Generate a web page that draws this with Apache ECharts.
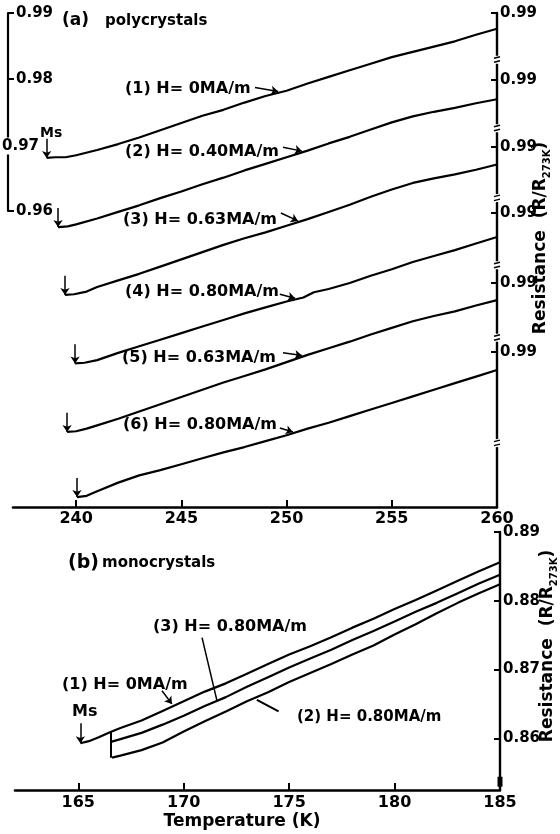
<!DOCTYPE html>
<html>
<head>
<meta charset="utf-8">
<script src="https://cdn.jsdelivr.net/npm/echarts@6/dist/echarts.min.js"></script>
<style>
  html, body { margin: 0; padding: 0; background: #fff; }
  #chart { width: 560px; height: 834px; }
</style>
</head>
<body>
<div id="chart"></div>
<script>
// ---------- (a) polycrystals: R/R273K vs temperature (K), six runs ----------
const polyLabels = ['(1) H= 0MA/m', '(2) H= 0.40MA/m', '(3) H= 0.63MA/m',
                    '(4) H= 0.80MA/m', '(5) H= 0.63MA/m', '(6) H= 0.80MA/m'];
// each run is drawn lowered by this amount; its own 0.99 sits at (0.99 - shift)
const polyShift = [0, 0.0102, 0.0203, 0.0304, 0.0410, 0.0515];

const poly1 = [[238.6,0.9680],[239.0,0.9681],[239.5,0.9681],[240,0.9684],[241,0.9692],[242,0.9701],
  [243,0.9711],[244,0.9722],[245,0.9733],[246,0.9744],[247,0.9753],[248,0.9764],[249,0.9774],
  [250,0.9782],[251,0.9793],[252,0.9803],[253,0.9813],[254,0.9823],[255,0.9833],[256,0.9841],
  [257,0.9849],[258,0.9857],[259,0.9867],[260,0.9876]];
const poly2 = [[239.14,0.9677],[239.6,0.9678],[240,0.9681],[241,0.9690],[242,0.9700],[243,0.9710],
  [244,0.9721],[245,0.9731],[246,0.9742],[247,0.9752],[248,0.9763],[249,0.9773],[250,0.9783],
  [251,0.9793],[252,0.9804],[253,0.9814],[254,0.9825],[255,0.9836],[256,0.9845],[257,0.9852],
  [258,0.9858],[259,0.9865],[260,0.9871]];
const poly3 = [[239.47,0.9675],[239.9,0.9676],[240.5,0.9680],[241,0.9687],[242,0.9697],[243,0.9707],
  [244,0.9718],[245,0.9729],[246,0.9740],[247,0.9751],[248,0.9761],[249,0.9770],[250,0.9780],
  [251,0.9790],[252,0.9801],[253,0.9812],[254,0.9824],[255,0.9835],[256,0.9845],[257,0.9852],
  [258,0.9858],[259,0.9865],[260,0.9873]];
const poly4 = [[239.95,0.9672],[240.4,0.9673],[241,0.9677],[242,0.9688],[243,0.9698],[244,0.9708],
  [245,0.9718],[246,0.9728],[247,0.9738],[248,0.9748],[249,0.9757],[250,0.9766],[250.8,0.9772],
  [251.3,0.9780],[252,0.9785],[253,0.9794],[254,0.9805],[255,0.9815],[256,0.9826],[257,0.9835],
  [258,0.9844],[259,0.9854],[260,0.9864]];
const poly5 = [[239.57,0.9674],[240.0,0.9675],[240.5,0.9679],[241,0.9684],[242,0.9694],[243,0.9705],
  [244,0.9716],[245,0.9727],[246,0.9738],[247,0.9749],[248,0.9759],[249,0.9769],[250,0.9780],
  [251,0.9791],[252,0.9801],[253,0.9811],[254,0.9822],[255,0.9832],[256,0.9842],[257,0.9850],
  [258,0.9857],[259,0.9866],[260,0.9874]];
const poly6 = [[240.04,0.9680],[240.5,0.9682],[241,0.9689],[242,0.9702],[243,0.9713],[244,0.9721],
  [245,0.9730],[246,0.9739],[247,0.9748],[248,0.9756],[249,0.9765],[250,0.9774],[251,0.9784],
  [252,0.9793],[253,0.9803],[254,0.9813],[255,0.9823],[256,0.9833],[257,0.9843],[258,0.9853],
  [259,0.9863],[260,0.9873]];
const polyRuns = [poly1, poly2, poly3, poly4, poly5, poly6];

const polyTempTicks = [240, 245, 250, 255, 260];
const polyScaleTicks = [0.96, 0.98, 0.99];

// ---------- (b) monocrystals ----------
const monoLabels = ['(1) H= 0MA/m', '(2) H= 0.80MA/m', '(3) H= 0.80MA/m'];
const mono1 = [[165.1,0.8593],[165.5,0.8596],[166,0.8602],[166.5,0.8609],[167,0.8615],[168,0.8626],
  [169,0.8640],[170,0.8654],[171,0.8668],[172,0.8680],[173,0.8694],[174,0.8708],[175,0.8722],
  [176,0.8734],[177,0.8747],[178,0.8761],[179,0.8774],[180,0.8788],[181,0.8801],[182,0.8815],
  [183,0.8829],[184,0.8843],[185,0.8856]];
const mono2 = [[166.6,0.8572],[167,0.8575],[168,0.8583],[169,0.8594],[170,0.8610],[171,0.8625],
  [172,0.8639],[173,0.8654],[174,0.8667],[175,0.8682],[176,0.8695],[177,0.8708],[178,0.8722],
  [179,0.8735],[180,0.8751],[181,0.8766],[182,0.8782],[183,0.8797],[184,0.8811],[185,0.8824]];
const mono3 = [[166.55,0.8595],[167,0.8599],[168,0.8608],[169,0.8620],[170,0.8633],[171,0.8647],
  [172,0.8660],[173,0.8675],[174,0.8689],[175,0.8703],[176,0.8716],[177,0.8729],[178,0.8743],
  [179,0.8756],[180,0.8770],[181,0.8784],[182,0.8797],[183,0.8811],[184,0.8825],[185,0.8838]];

const monoTempTicks = [165, 170, 175, 180, 185];
const monoResTicks = [0.86, 0.87, 0.88, 0.89];

// ---------- annotation placement ----------
const FONT = '"DejaVu Sans", sans-serif';
const INK = '#000';
const msArrowLen = 0.0029;                 // length of the Ms pointers (resistance units)
// label arrows in panel (a): tail temperature, tip temperature, tail rise above tip
const polyArrows = [[248.5, 249.6, 0.0006], [249.83, 250.73, 0.0006], [249.73, 250.54, 0.0012],
                    [249.68, 250.40, 0.0006], [249.83, 250.73, 0.0004], [249.68, 250.30, 0.0006]];
// axis-break positions on the right axis of panel (a), in drawn units
const axisBreaks = [0.9829, 0.9725, 0.9619, 0.9517, 0.9407, 0.9247];

function valueAt(run, t) {
  for (let i = 1; i < run.length; i++) {
    if (t <= run[i][0]) {
      const [t0, v0] = run[i - 1], [t1, v1] = run[i];
      return v0 + (v1 - v0) * (t - t0) / (t1 - t0);
    }
  }
  return run[run.length - 1][1];
}

const arrowLine = { color: INK, width: 1.5, type: 'solid' };

const series = [];
polyRuns.forEach((run, i) => {
  const s = polyShift[i];
  const [ta, tb, rise] = polyArrows[i];
  const tip = valueAt(run, tb) + 0.0002 - s;
  series.push({
    type: 'line', xAxisIndex: 0, yAxisIndex: 0, name: polyLabels[i],
    data: run.map(([t, r]) => [t, +(r - s).toFixed(5)]),
    symbol: 'none', silent: true,
    lineStyle: { color: INK, width: 2.2 },
    markLine: {
      silent: true, symbol: ['none', 'arrow'], symbolSize: 7,
      label: { show: false }, lineStyle: arrowLine,
      data: [
        [{ coord: [run[0][0], run[0][1] - s + msArrowLen] }, { coord: [run[0][0], run[0][1] - s] }],
        [{ coord: [ta, tip + rise] }, { coord: [tb, tip] }]
      ]
    }
  });
});

// panel (b): Ms pointer, joint start marker and label arrows
const joinT = mono3[0][0];
series.push({
  type: 'line', xAxisIndex: 1, yAxisIndex: 1, name: monoLabels[0], data: mono1,
  symbol: 'none', silent: true, lineStyle: { color: INK, width: 2.2 },
  markLine: {
    silent: true, symbol: ['none', 'arrow'], symbolSize: 7,
    label: { show: false }, lineStyle: arrowLine,
    data: [
      [{ coord: [mono1[0][0], mono1[0][1] + msArrowLen] }, { coord: [mono1[0][0], mono1[0][1]] }],
      [{ coord: [168.97, valueAt(mono1, 169.44) + 0.0023] }, { coord: [169.44, valueAt(mono1, 169.44) + 0.0004] }]
    ]
  }
});
series.push({
  type: 'line', xAxisIndex: 1, yAxisIndex: 1, name: monoLabels[1], data: mono2,
  symbol: 'none', silent: true, lineStyle: { color: INK, width: 2.2 },
  markLine: {
    silent: true, symbol: ['none', 'none'],
    label: { show: false }, lineStyle: { color: INK, width: 2, type: 'solid' },
    data: [
      [{ coord: [joinT, valueAt(mono1, joinT)] }, { coord: [joinT, mono2[0][1]] }],
      [{ coord: [173.47, valueAt(mono2, 173.47) - 0.0004] }, { coord: [174.5, valueAt(mono2, 173.47) - 0.0021] }]
    ]
  }
});
series.push({
  type: 'line', xAxisIndex: 1, yAxisIndex: 1, name: monoLabels[2], data: mono3,
  symbol: 'none', silent: true, lineStyle: { color: INK, width: 2.2 },
  markLine: {
    silent: true, symbol: ['none', 'none'],
    label: { show: false }, lineStyle: arrowLine,
    data: [
      [{ coord: [170.87, valueAt(mono3, 171.58) + 0.0092] }, { coord: [171.58, valueAt(mono3, 171.58)] }]
    ]
  }
});

const axisText = { color: INK, fontFamily: FONT, fontWeight: 'bold', fontSize: 15 };
const blackLine = w => ({ show: true, lineStyle: { color: INK, width: w } });

const chart = echarts.init(document.getElementById('chart'), null, { renderer: 'canvas' });

chart.setOption({
  animation: false,
  backgroundColor: '#fff',
  textStyle: { fontFamily: FONT },
  grid: [
    { left: 13, top: 13, width: 484, height: 494 },   // panel (a)
    { left: 15, top: 532, width: 485, height: 258 },  // panel (b)
    { left: 8, top: 13, width: 2, height: 198 }       // scale bar of panel (a)
  ],
  xAxis: [
    { gridIndex: 0, type: 'value', min: 237, max: 260, axisLine: blackLine(2.6),
      axisTick: { show: true, inside: true, length: 7, customValues: polyTempTicks, lineStyle: { color: INK, width: 2 } },
      axisLabel: Object.assign({}, axisText, { customValues: polyTempTicks, margin: 4, fontSize: 16 }),
      splitLine: { show: false } },
    { gridIndex: 1, type: 'value', min: 162, max: 185, axisLine: blackLine(2.6),
      axisTick: { show: true, inside: true, length: 7, customValues: monoTempTicks, lineStyle: { color: INK, width: 2 } },
      axisLabel: Object.assign({}, axisText, { customValues: monoTempTicks, margin: 5, fontSize: 16 }),
      splitLine: { show: false } },
    { gridIndex: 2, type: 'value', min: 0, max: 1, show: false }
  ],
  yAxis: [
    { gridIndex: 0, type: 'value', position: 'right', min: 0.915, max: 0.99,
      axisLine: blackLine(2.4),
      axisTick: { show: true, inside: true, length: 6, customValues: polyShift.map(s => +(0.99 - s).toFixed(4)),
                  lineStyle: { color: INK, width: 2 } },
      axisLabel: Object.assign({
        customValues: polyShift.map(s => +(0.99 - s).toFixed(4)), margin: 3,
        formatter: v => {
          const i = polyShift.findIndex(s => Math.abs(0.99 - s - v) < 1e-6);
          return (v + (i < 0 ? 0 : polyShift[i])).toFixed(2);
        }
      }, axisText),
      splitLine: { show: false } },
    { gridIndex: 1, type: 'value', position: 'right', min: 0.8525, max: 0.89,
      axisLine: blackLine(2.4),
      axisTick: { show: true, inside: true, length: 6, customValues: monoResTicks, lineStyle: { color: INK, width: 2 } },
      axisLabel: Object.assign({ customValues: monoResTicks, margin: 3, formatter: v => v.toFixed(2) }, axisText),
      splitLine: { show: false } },
    { gridIndex: 2, type: 'value', position: 'left', min: 0.96, max: 0.99,
      axisLine: blackLine(2.2),
      axisTick: { show: true, inside: true, length: 6, customValues: polyScaleTicks, lineStyle: { color: INK, width: 2 } },
      axisLabel: Object.assign({ inside: true, customValues: polyScaleTicks, margin: 8,
                                 formatter: v => v.toFixed(2) }, axisText),
      splitLine: { show: false } }
  ],
  series: series
});

// ---------- text and axis decorations ----------
function txt(text, x, y, size, extra) {
  return Object.assign({
    type: 'text', silent: true, z: 50,
    style: Object.assign({
      text, x, y, fill: INK, fontFamily: FONT, fontWeight: 'bold', fontSize: size,
      align: 'left', verticalAlign: 'middle', textAlign: 'left', textVerticalAlign: 'middle'
    }, extra || {})
  });
}

function vertTitle(cx, cy) {
  return {
    type: 'text', silent: true, z: 50, x: cx, y: cy, rotation: Math.PI / 2,
    style: {
      text: 'Resistance  (R/R{s|273K})', x: 0, y: 0, fill: INK,
      fontFamily: FONT, fontWeight: 'bold', fontSize: 17, lineHeight: 22,
      align: 'center', verticalAlign: 'middle', textAlign: 'center', textVerticalAlign: 'middle',
      rich: { s: { fontFamily: FONT, fontWeight: 'bold', fontSize: 10, verticalAlign: 'bottom', lineHeight: 22 } }
    }
  };
}

const graphics = [
  txt('(a)', 62, 21, 17), txt('polycrystals', 105, 21, 15),
  txt('Ms', 40, 133, 14),
  txt('0.97', 2, 146, 15, { backgroundColor: '#fff', padding: [1, 0, 1, 0] }),
  txt('(b)', 68, 563, 19), txt('monocrystals', 102, 563, 15),
  txt(monoLabels[2], 153, 627, 16),
  txt(monoLabels[0], 62, 685, 16),
  txt('Ms', 72, 712, 16),
  txt(monoLabels[1], 297, 717, 15),
  txt('Temperature (K)', 242, 822, 17, { align: 'center', textAlign: 'center' }),
  vertTitle(541, 238),
  vertTitle(548, 646)
];
const polyLabelPos = [[125, 89], [125, 152], [123, 220], [125, 292], [122, 358], [123, 425]];
polyLabels.forEach((l, i) => graphics.push(txt(l, polyLabelPos[i][0], polyLabelPos[i][1], 16)));

// broken-axis marks on the right axis of panel (a)
axisBreaks.forEach(v => {
  const [px, py] = chart.convertToPixel({ gridIndex: 0 }, [260, v]);
  graphics.push({ type: 'rect', silent: true, z: 40, shape: { x: px - 5, y: py - 4, width: 10, height: 8 }, style: { fill: '#fff' } });
  graphics.push({ type: 'line', silent: true, z: 41, shape: { x1: px - 3, y1: py - 1.5, x2: px + 3, y2: py - 3 }, style: { stroke: INK, lineWidth: 1.4 } });
  graphics.push({ type: 'line', silent: true, z: 41, shape: { x1: px - 3, y1: py + 2.5, x2: px + 3, y2: py + 1 }, style: { stroke: INK, lineWidth: 1.4 } });
});
{
  const [px, py] = chart.convertToPixel({ gridIndex: 1 }, [185, 0.8537]);
  graphics.push({ type: 'rect', silent: true, z: 40, shape: { x: px - 2.5, y: py - 5, width: 5, height: 10 }, style: { fill: INK } });
}

chart.setOption({ graphic: graphics });
</script>
</body>
</html>
